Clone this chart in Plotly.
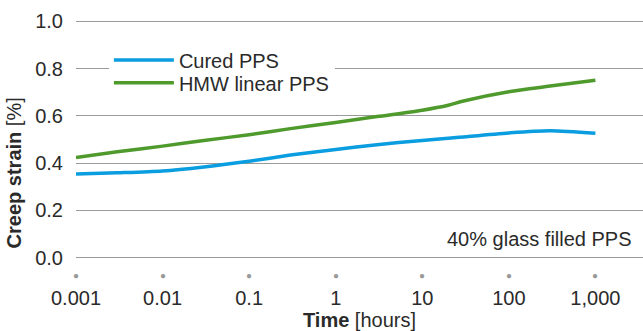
import math
import plotly.graph_objects as go

time_hours = [0.001, 0.003, 0.01, 0.03, 0.1, 0.3, 1, 3, 10, 20, 30, 100, 300, 1000]
cured_pps = [0.354, 0.359, 0.367, 0.384, 0.408, 0.434, 0.458, 0.478, 0.496, 0.505, 0.511, 0.528, 0.537, 0.526]
hmw_pps = [0.424, 0.448, 0.472, 0.496, 0.520, 0.546, 0.572, 0.597, 0.624, 0.645, 0.663, 0.702, 0.726, 0.751]

tick_vals = [0.001, 0.01, 0.1, 1, 10, 100, 1000]
tick_text = ["0.001", "0.01", "0.1", "1", "10", "100", "1,000"]
y_ticks = [0.0, 0.2, 0.4, 0.6, 0.8, 1.0]

FONT = "Liberation Sans, Arial, sans-serif"
TXT = "#2a2a2a"
FS = 20

fig = go.Figure()
fig.add_trace(go.Scatter(x=time_hours, y=cured_pps, mode="lines", name="Cured PPS",
                         legend="legend2",
                         line=dict(color="#0a9de0", width=3.5, shape="spline", smoothing=0.8)))
fig.add_trace(go.Scatter(x=time_hours, y=hmw_pps, mode="lines", name="HMW linear PPS",
                         legend="legend",
                         line=dict(color="#4f9a2d", width=3.5, shape="spline", smoothing=0.8)))

# grey dot markers under each x tick
dot_annotations = [dict(text="●", x=math.log10(v), y=-0.066, xref="x", yref="paper",
                        showarrow=False, font=dict(size=10, color="#9a9a9a"),
                        xanchor="center", yanchor="middle") for v in tick_vals]

legend_common = dict(xanchor="left", yanchor="top",
                     font=dict(size=FS, color=TXT), itemwidth=60)

fig.update_layout(
    width=643, height=331,
    margin=dict(l=76, r=0, t=19, b=71),
    paper_bgcolor="white", plot_bgcolor="white",
    font=dict(family=FONT, color=TXT, size=FS),
    showlegend=True,
    legend2=dict(x=0.058, y=0.911, bgcolor="rgba(0,0,0,0)", **legend_common),
    legend=dict(x=0.058, y=0.816, bgcolor="white", **legend_common),
    xaxis=dict(type="log", range=[-3, 3.55], tickvals=tick_vals, ticktext=tick_text,
               showgrid=False, zeroline=False, showline=False, ticks="",
               ticklabelstandoff=24, tickfont=dict(size=FS, color=TXT),
               title=dict(text="<b>Time</b> [hours]", font=dict(size=FS, color=TXT), standoff=2)),
    yaxis=dict(range=[-0.01, 1.01], tickvals=y_ticks, tickformat=".1f",
               showgrid=True, gridcolor="#9a9a9a", gridwidth=1, zeroline=False,
               showline=False, ticks="", ticklabelstandoff=12,
               tickfont=dict(size=FS, color=TXT)),
    annotations=[dict(text="40% glass filled PPS", x=0.985, y=0.089, xref="paper", yref="paper",
                      xanchor="right", yanchor="middle", showarrow=False,
                      font=dict(size=FS, color=TXT)),
                 dict(text="<b>Creep strain</b> [%]", x=-0.109, y=0.36, xref="paper", yref="paper",
                      xanchor="center", yanchor="middle", textangle=-90, showarrow=False,
                      font=dict(size=FS, color=TXT))] + dot_annotations,
)

fig.write_html("out.html")
